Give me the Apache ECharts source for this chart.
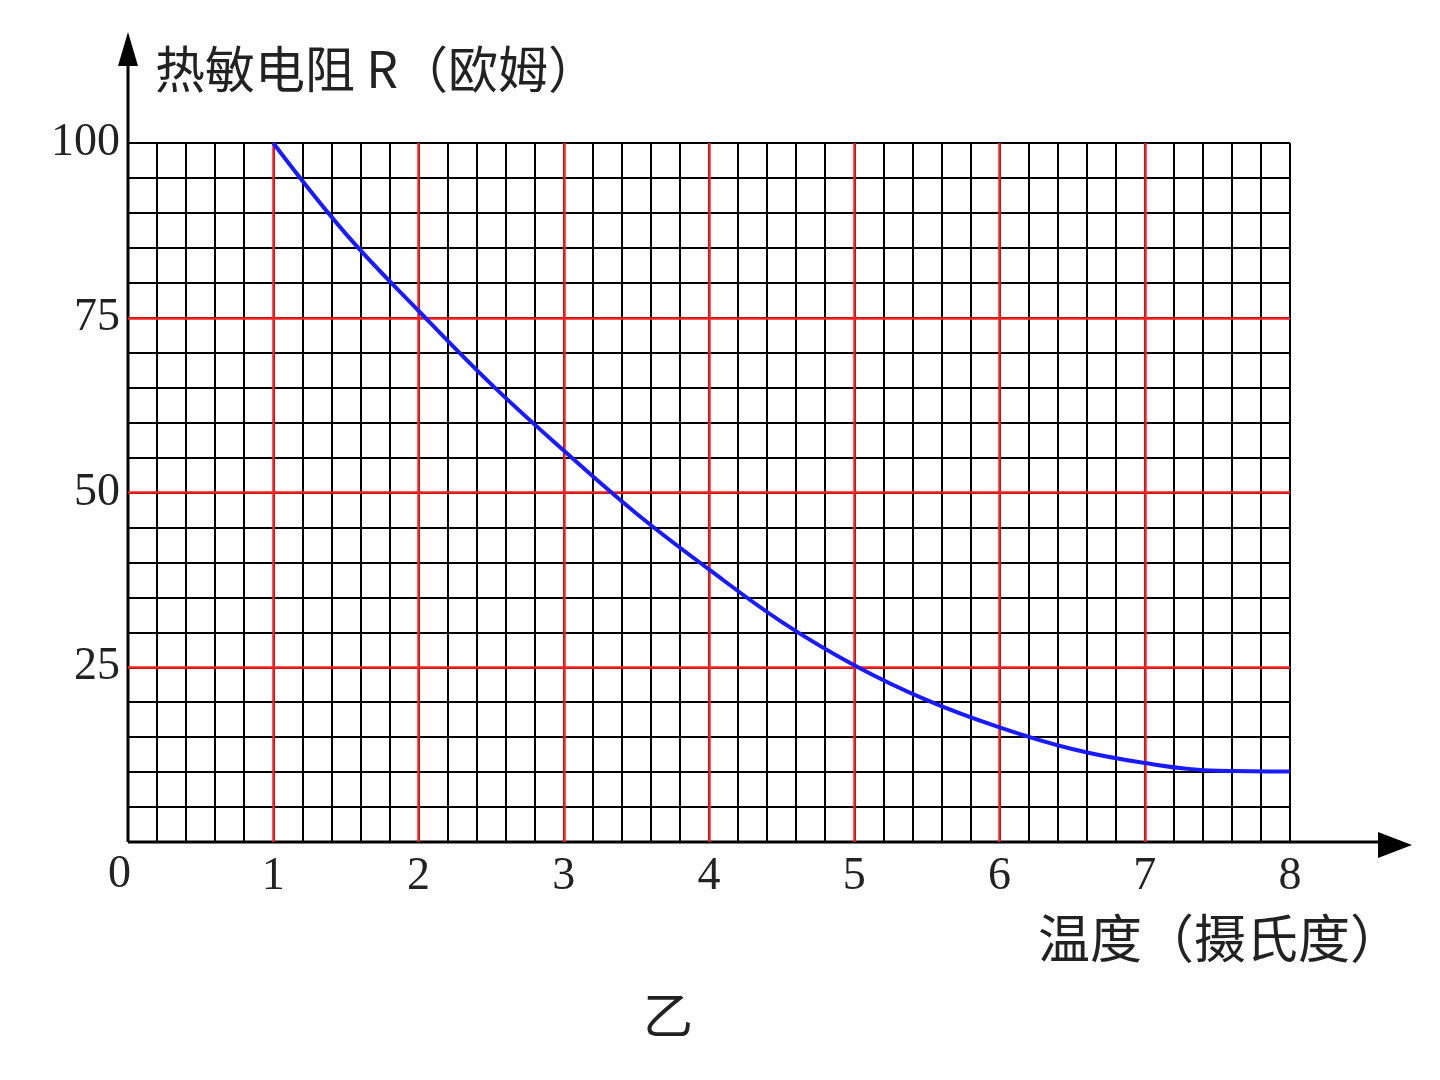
<!DOCTYPE html><html><head><meta charset="utf-8">
<script src="https://cdn.jsdelivr.net/npm/echarts@6/dist/echarts.min.js"></script>
<style>html,body{margin:0;background:#fff}#c{width:1440px;height:1080px}</style></head><body><div id="c"></div>
<script>
const temps=[1,1.5,2,2.5,3,3.5,4,4.5,5,5.5,6,6.5,7,7.5,8];
const resist=[100,87,76,65.5,56,47,39,31.5,25.3,20.3,16.4,13.3,11.3,10.2,10.1];
const xRed=[1,2,3,4,5,6,7];
const yRed=[25,50,75];
const xTicks=[0,1,2,3,4,5,6,7,8];
const yTicks=[25,50,75,100];
const chart=echarts.init(document.getElementById('c'));
const num='"Liberation Serif", serif';
const cjk='"Noto Sans CJK SC", sans-serif';
chart.setOption({
 animation:false,
 grid:{left:128,right:150,top:143,bottom:238},
 xAxis:{type:'value',min:0,max:8,interval:0.2,
  axisLine:{show:false},axisTick:{show:false},
  splitLine:{show:true,lineStyle:{color:'#000',width:2}},
  axisLabel:{fontFamily:num,fontSize:46,color:'#222',margin:12,showMinLabel:false,
   formatter:v=>{const r=Math.round(v);return Math.abs(v-r)<1e-6&&xTicks.includes(r)&&r>0?String(r):'';}}},
 yAxis:{type:'value',min:0,max:100,interval:5,
  axisLine:{show:false},axisTick:{show:false},
  splitLine:{show:true,lineStyle:{color:'#000',width:2}},
  axisLabel:{fontFamily:num,fontSize:46,color:'#222',margin:8,
   formatter:v=>yTicks.includes(Math.round(v))&&Math.abs(v-Math.round(v))<1e-6?String(Math.round(v)):''}},
 series:[{type:'line',data:temps.map((t,i)=>[t,resist[i]]),smooth:0.4,symbol:'none',
  lineStyle:{color:'#1a1aff',width:4},z:5,
  markLine:{silent:true,symbol:'none',label:{show:false},lineStyle:{color:'#ff2020',width:2.5,type:'solid'},
   data:[...xRed.map(x=>({xAxis:x})),...yRed.map(y=>({yAxis:y}))]}}],
 graphic:[
  {type:'line',shape:{x1:128,y1:842,x2:128,y2:50},style:{stroke:'#000',lineWidth:3}},
  {type:'polygon',shape:{points:[[128,32],[118,66],[138,66]]},style:{fill:'#000'}},
  {type:'line',shape:{x1:128,y1:842,x2:1395,y2:842},style:{stroke:'#000',lineWidth:3}},
  {type:'polygon',shape:{points:[[1412,845],[1378,832],[1378,858]]},style:{fill:'#000'}},
  {type:'text',left:108,top:852,style:{text:'0',font:'46px '+num,fill:'#222'}},
  {type:'text',left:155,top:44,style:{text:'热敏电阻 R（欧姆）',font:'50px '+cjk,fill:'#222'}},
  {type:'text',left:1038,top:912,style:{text:'温度（摄氏度）',font:'52px '+cjk,fill:'#222'}},
  {type:'text',left:643,top:990,style:{text:'乙',font:'50px '+cjk,fill:'#222'}}
 ]
});
</script></body></html>
